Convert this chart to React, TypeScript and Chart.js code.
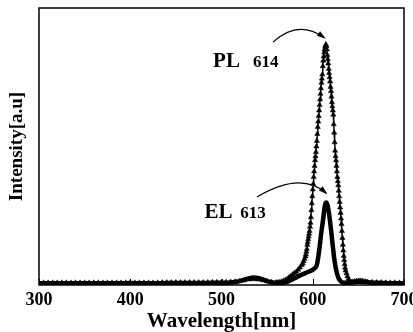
import React, { useEffect, useRef } from "react";
import { Chart, registerables } from "chart.js";

Chart.register(...registerables);

// ---- Data ----
const xTickValues = [300, 400, 500, 600, 700];
const xAxisTitle = "Wavelength[nm]";
const yAxisTitle = "Intensity[a.u]";

const plWavelength = [
  300, 305, 310, 315, 320, 325, 330, 335, 340, 345, 350, 355, 360, 365, 370, 375, 380, 385, 390, 395,
  400, 405, 410, 415, 420, 425, 430, 435, 440, 445, 450, 455, 460, 465, 470, 475, 480, 485, 490, 495,
  500, 505, 510, 515, 520, 525, 530, 535, 540, 545, 550, 555, 560, 562, 564, 566, 568, 570, 572, 574,
  576, 578, 580, 582, 584, 586, 588, 589, 590, 591, 592, 592.5, 593, 593.5, 594, 594.5, 595, 595.5,
  596, 596.5, 597, 597.5, 598, 598.5, 599, 599.5, 600, 600.5, 601, 601.5, 602, 602.5, 603, 603.5, 604,
  604.5, 605, 605.5, 606, 606.5, 607, 607.5, 608, 608.5, 609, 609.5, 610, 610.5, 611, 611.5, 612,
  612.5, 613, 613.5, 614, 614.5, 615, 615.5, 616, 616.5, 617, 617.5, 618, 618.5, 619, 619.5, 620,
  620.5, 621, 621.5, 622, 622.5, 623, 623.5, 624, 624.5, 625, 625.5, 626, 626.5, 627, 627.5, 628,
  628.5, 629, 629.5, 630, 630.5, 631, 631.5, 632, 632.5, 633, 633.5, 634, 634.5, 635, 635.5, 636,
  637, 638, 639, 640, 641, 642, 644, 646, 648, 650, 652, 654, 656, 658, 660, 665, 670, 675, 680, 685,
  690, 695, 700,
];
const plIntensity = [
  0.008, 0.008, 0.008, 0.008, 0.008, 0.008, 0.008, 0.008, 0.008, 0.008, 0.008, 0.008, 0.008, 0.008, 0.008, 0.008, 0.008, 0.008, 0.008, 0.008,
  0.008, 0.008, 0.008, 0.008, 0.008, 0.008, 0.008, 0.009, 0.009, 0.009, 0.009, 0.009, 0.009, 0.009, 0.009, 0.009, 0.009, 0.009, 0.01, 0.01,
  0.01, 0.01, 0.011, 0.012, 0.014, 0.017, 0.02, 0.021, 0.02, 0.017, 0.013, 0.01, 0.009, 0.009, 0.01, 0.012, 0.015, 0.018, 0.022, 0.027,
  0.032, 0.038, 0.043, 0.048, 0.055, 0.063, 0.072, 0.078, 0.086, 0.094, 0.103, 0.11, 0.12, 0.13, 0.145, 0.155, 0.165, 0.175,
  0.185, 0.195, 0.21, 0.225, 0.245, 0.27, 0.295, 0.32, 0.345, 0.365, 0.39, 0.41, 0.43, 0.45, 0.465, 0.48, 0.5,
  0.52, 0.545, 0.57, 0.59, 0.61, 0.63, 0.65, 0.67, 0.69, 0.71, 0.73, 0.745, 0.76, 0.79, 0.81, 0.825,
  0.84, 0.85, 0.86, 0.865, 0.868, 0.862, 0.85, 0.83, 0.815, 0.8, 0.78, 0.765, 0.75, 0.735, 0.715, 0.7,
  0.68, 0.66, 0.645, 0.63, 0.615, 0.58, 0.55, 0.515, 0.485, 0.465, 0.45, 0.43, 0.41, 0.39, 0.375, 0.36,
  0.34, 0.32, 0.3, 0.28, 0.26, 0.24, 0.22, 0.195, 0.17, 0.145, 0.125, 0.105, 0.09, 0.075, 0.062, 0.052,
  0.042, 0.032, 0.022, 0.016, 0.012, 0.011, 0.012, 0.013, 0.014, 0.015, 0.015, 0.014, 0.013, 0.012, 0.011, 0.01, 0.009, 0.009, 0.008, 0.008,
  0.008, 0.008, 0.008,
];

const elWavelength = [
  300, 310, 320, 330, 340, 350, 360, 370, 380, 390, 400, 410, 420, 430, 440, 450, 460, 470, 480, 490,
  500, 505, 510, 515, 520, 525, 530, 535, 540, 545, 550, 555, 560, 565, 570, 575, 580, 585, 590, 594,
  597, 600, 602, 604, 605, 606, 607, 608, 609, 610, 611, 612, 613, 614, 615, 616, 617, 618, 619, 620,
  621, 622, 623, 624, 625, 626, 627, 628, 630, 632, 635, 640, 645, 650, 655, 660, 670, 680, 690, 700,
];
const elIntensity = [
  0.006, 0.006, 0.006, 0.006, 0.006, 0.006, 0.006, 0.006, 0.006, 0.006, 0.007, 0.006, 0.006, 0.006, 0.007, 0.007, 0.007, 0.007, 0.007, 0.008,
  0.008, 0.008, 0.009, 0.011, 0.014, 0.019, 0.024, 0.027, 0.025, 0.02, 0.014, 0.01, 0.008, 0.008, 0.01, 0.016, 0.024, 0.033, 0.04, 0.046,
  0.05, 0.055, 0.06, 0.068, 0.08, 0.1, 0.125, 0.15, 0.18, 0.205, 0.228, 0.255, 0.28, 0.295, 0.298, 0.29, 0.275, 0.255, 0.228, 0.2,
  0.17, 0.14, 0.11, 0.085, 0.065, 0.05, 0.037, 0.027, 0.016, 0.01, 0.008, 0.008, 0.01, 0.012, 0.011, 0.01, 0.008, 0.007, 0.006, 0.006,
];

// Annotations (data coordinates: wavelength, intensity of text baseline)
const annotationTexts = ["PL", "614", "EL", "613"];
const annotationX = [505.5, 548.5, 496.7, 534.5];
const annotationY = [0.787, 0.787, 0.242, 0.242];
const annotationSizes = [21, 17, 21, 17];

// Curved arrows: [startX, startY, ctrlX, ctrlY, endX, endY]
const plArrow = [556.4, 0.877, 584.0, 0.96, 612.5, 0.893];
const elArrow = [538.9, 0.318, 587.0, 0.412, 614.5, 0.332];

const FONT = "'Liberation Serif', 'Times New Roman', serif";

const decorPlugin = {
  id: "decor",
  afterDatasetsDraw(chart: any) {
    const { ctx, chartArea, scales } = chart;
    const xs = scales.x;
    const ys = scales.y;
    ctx.save();
    // frame
    ctx.strokeStyle = "#000";
    ctx.lineWidth = 1.5;
    ctx.strokeRect(chartArea.left, chartArea.top, chartArea.right - chartArea.left, chartArea.bottom - chartArea.top);
    // inner ticks
    ctx.lineWidth = 1;
    xTickValues.forEach((v) => {
      const px = Math.round(xs.getPixelForValue(v)) + 0.5;
      ctx.beginPath();
      ctx.moveTo(px, chartArea.bottom);
      ctx.lineTo(px, chartArea.bottom - 6);
      ctx.stroke();
    });
    // texts
    ctx.fillStyle = "#000";
    ctx.textAlign = "center";
    ctx.textBaseline = "alphabetic";
    annotationTexts.forEach((t, i) => {
      ctx.font = `bold ${annotationSizes[i]}px ${FONT}`;
      ctx.fillText(t, xs.getPixelForValue(annotationX[i]), ys.getPixelForValue(annotationY[i]));
    });
    // arrows
    const drawArrow = (a: number[]) => {
      const sx = xs.getPixelForValue(a[0]);
      const sy = ys.getPixelForValue(a[1]);
      const cx = xs.getPixelForValue(a[2]);
      const cy = ys.getPixelForValue(a[3]);
      const ex = xs.getPixelForValue(a[4]);
      const ey = ys.getPixelForValue(a[5]);
      ctx.lineWidth = 1.2;
      ctx.beginPath();
      ctx.moveTo(sx, sy);
      ctx.quadraticCurveTo(cx, cy, ex, ey);
      ctx.stroke();
      const ang = Math.atan2(ey - cy, ex - cx);
      const len = 7;
      const w = 2.8;
      ctx.beginPath();
      ctx.moveTo(ex + Math.cos(ang) * 2, ey + Math.sin(ang) * 2);
      ctx.lineTo(ex - Math.cos(ang) * len - Math.sin(ang) * w, ey - Math.sin(ang) * len + Math.cos(ang) * w);
      ctx.lineTo(ex - Math.cos(ang) * len + Math.sin(ang) * w, ey - Math.sin(ang) * len - Math.cos(ang) * w);
      ctx.closePath();
      ctx.fill();
    };
    drawArrow(plArrow);
    drawArrow(elArrow);
    ctx.restore();
  },
};

export default function App() {
  const ref = useRef<HTMLCanvasElement | null>(null);
  useEffect(() => {
    if (!ref.current) return;
    const chart = new Chart(ref.current, {
      type: "line",
      data: {
        datasets: [
          {
            label: "EL",
            data: elWavelength.map((x, i) => ({ x, y: elIntensity[i] })),
            borderColor: "#000",
            backgroundColor: "#000",
            borderWidth: 4.5,
            pointRadius: 0,
            cubicInterpolationMode: "monotone",
            fill: false,
          },
          {
            label: "PL",
            data: plWavelength.map((x, i) => ({ x, y: plIntensity[i] })),
            borderColor: "#000",
            backgroundColor: "#000",
            borderWidth: 1.5,
            pointStyle: "triangle",
            pointRadius: 3,
            pointBorderWidth: 0.5,
            pointBackgroundColor: "#000",
            pointBorderColor: "#000",
            fill: false,
          },
        ],
      },
      options: {
        responsive: false,
        animation: false,
        devicePixelRatio: 1,
        layout: { padding: { top: 8, right: 9, left: 0, bottom: 0 } },
        plugins: { legend: { display: false }, tooltip: { enabled: false } },
        scales: {
          x: {
            type: "linear",
            min: 300,
            max: 700,
            afterBuildTicks: (s: any) => {
              s.ticks = xTickValues.map((v) => ({ value: v }));
            },
            afterFit: (s: any) => {
              s.height = 47;
              s.paddingLeft = 0;
              s.paddingRight = 0;
            },
            grid: { display: false, drawTicks: false },
            border: { display: false },
            ticks: {
              color: "#000",
              font: { family: FONT, size: 18, weight: "bold" },
              padding: 5,
              maxRotation: 0,
              autoSkip: false,
            },
            title: {
              display: true,
              text: xAxisTitle,
              color: "#000",
              font: { family: FONT, size: 21, weight: "bold", lineHeight: 1 },
              padding: { top: 0, bottom: 0 },
            },
          },
          y: {
            min: 0,
            max: 1,
            afterFit: (s: any) => {
              s.width = 39;
            },
            grid: { display: false, drawTicks: false },
            border: { display: false },
            ticks: { display: false },
            title: {
              display: true,
              text: yAxisTitle,
              color: "#000",
              font: { family: FONT, size: 19, weight: "bold", lineHeight: 1 },
              padding: { top: 8, bottom: 0 },
            },
          },
        },
      },
      plugins: [decorPlugin],
    } as any);
    return () => chart.destroy();
  }, []);
  return (
    <div style={{ position: "fixed", left: 0, top: 0, width: 413, height: 332, background: "#fff" }}>
      <canvas ref={ref} width={413} height={332} />
    </div>
  );
}
